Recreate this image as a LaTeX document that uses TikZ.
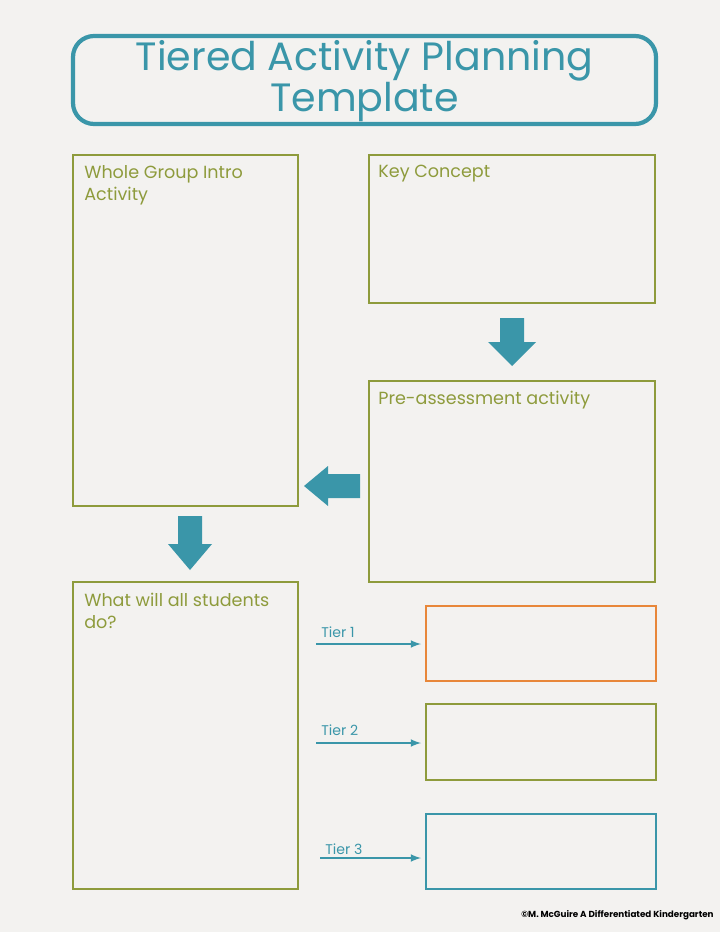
\documentclass[tikz,border=0pt]{standalone}
\usepackage{fontspec}
\setmainfont{Poppins}
\usepackage{tikz}
\usetikzlibrary{positioning}
\definecolor{bgc}{HTML}{F3F2F0}
\definecolor{teal}{HTML}{3A96A9}
\definecolor{olive}{HTML}{8E9B3C}
\definecolor{orng}{HTML}{E8873A}
\tikzset{
    panel/.style={draw=olive, line width=1.3pt},
    lbl/.style={anchor=north west, text=olive, font=\fontsize{10}{12.5}\selectfont, align=left, inner sep=0pt},
    tierlbl/.style={anchor=south west, text=teal, font=\fontsize{8}{9}\selectfont, inner sep=0pt},
    thin/.style={draw=teal, line width=1pt, -latex},
    fat/.style={fill=teal, draw=none}
}
\begin{document}
\begin{tikzpicture}[x=0.02cm, y=-0.02cm]
    \fill[bgc] (0,0) rectangle (720,932);
    \useasboundingbox (0,0) rectangle (720,932);

    % title
    \draw[teal, line width=2.4pt, rounded corners=12] (73,36) rectangle (656,124);
    \node[text=teal, align=center, font=\fontsize{22.5}{22}\selectfont] (title) at (364.5,81) {Tiered Activity Planning\\Template};

    % panels
    \draw[panel] (73,155) rectangle (298,506);
    \node[lbl] (intro) at (84,165) {Whole Group Intro\\Activity};
    \draw[panel] (369,155) rectangle (655,303);
    \node[lbl] (key) at (378,165) {Key Concept};
    \draw[panel] (369,381) rectangle (655,582);
    \node[lbl] (pre) at (378,391) {Pre-assessment activity};
    \draw[panel] (73,582) rectangle (298,889);
    \node[lbl] (all) at (84,593) {What will all students\\do?};

    % tier boxes
    \draw[draw=orng, line width=1.3pt] (426,606) rectangle (656,681);
    \draw[panel] (426,704) rectangle (656,780);
    \draw[draw=teal, line width=1.3pt] (426,814) rectangle (656,889);

    % block arrows
    \fill[fat] (500,318) -- (524,318) -- (524,342) -- (536,342) -- (512,366) -- (488,342) -- (500,342) -- cycle;
    \fill[fat] (360,474) -- (360,498) -- (328,498) -- (328,506) -- (304,486) -- (328,466) -- (328,474) -- cycle;
    \fill[fat] (178,516) -- (202,516) -- (202,544) -- (212,544) -- (190,570) -- (168,544) -- (178,544) -- cycle;

    % tiers
    \coordinate (t1s) at (316,644); \coordinate (t1e) at (421,644);
    \coordinate (t2s) at (316,743); \coordinate (t2e) at (421,743);
    \coordinate (t3s) at (320,858); \coordinate (t3e) at (421,858);
    \draw[thin] (t1s) -- (t1e);
    \draw[thin] (t2s) -- (t2e);
    \draw[thin] (t3s) -- (t3e);
    \node[tierlbl] (tier1) at (321,638) {Tier 1};
    \node[tierlbl] (tier2) at (321,736) {Tier 2};
    \node[tierlbl] (tier3) at (325,855) {Tier 3};

    \node[anchor=east, font=\fontsize{5}{6}\selectfont\bfseries, inner sep=0pt] (credit) at (714,915) {©M. McGuire A Differentiated Kindergarten};
\end{tikzpicture}
\end{document}
